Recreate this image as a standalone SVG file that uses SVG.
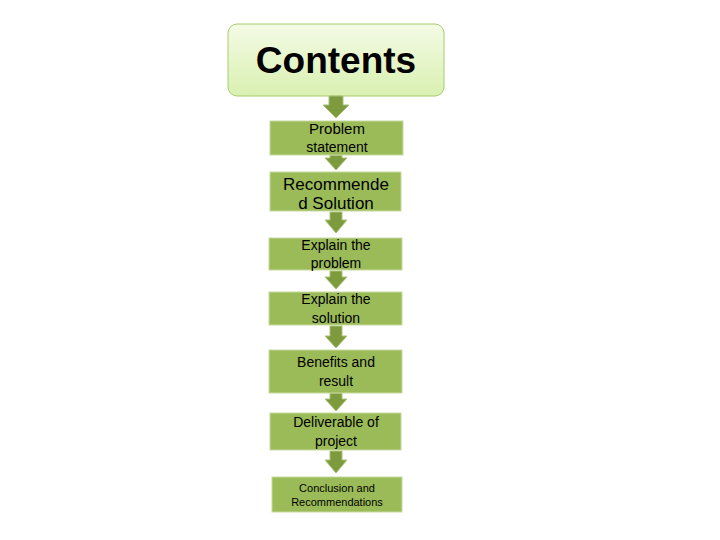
<svg xmlns="http://www.w3.org/2000/svg" width="720" height="540" viewBox="0 0 720 540">
<defs>
<linearGradient id="g0" x1="0" y1="0" x2="0" y2="1"><stop offset="0" stop-color="#f4fbe6"/><stop offset="1" stop-color="#d9f0b0"/></linearGradient>
</defs>
<style>
.b{fill:#9bbb59;stroke:#c7d9a0;stroke-width:1}
.a{fill:#7d9a3c;stroke:#a9c27a;stroke-width:1}
text{font-family:"Liberation Sans",Arial,sans-serif;fill:#000;text-anchor:middle}
.t{font-size:15px}
</style>
<rect width="720" height="540" fill="#fff"/>
<g id="contents"><rect x="228" y="24" width="216" height="72" rx="9" fill="url(#g0)" stroke="#a8cc70"/><text x="336" y="73" font-size="37" font-weight="bold">Contents</text></g>
<g id="connectors">
<path class="a" d="M329 96h14v9h6l-13 13l-13-13h6z"/>
<path class="a" d="M330 155h12v3h5l-11 12l-11-12h5z"/>
<path class="a" d="M330 212h12v8h5l-11 13l-11-13h5z"/>
<path class="a" d="M330 271h12v6h5l-11 12l-11-12h5z"/>
<path class="a" d="M330 326h12v10h5l-11 12l-11-12h5z"/>
<path class="a" d="M330 393h12v6h5l-11 12l-11-12h5z"/>
<path class="a" d="M330 451h12v9h5l-11 13l-11-13h5z"/>
</g>
<g id="n1"><rect class="b" x="270" y="121" width="133" height="34"/><text class="t" x="337" y="134" font-size="14">Problem</text><text x="337" y="152" font-size="14">statement</text></g>
<g id="n2"><rect class="b" x="270" y="172" width="131" height="39"/><text x="336" y="190" font-size="17">Recommende</text><text x="336" y="209" font-size="17">d Solution</text></g>
<g id="n3"><rect class="b" x="269" y="238" width="133" height="32"/><text x="336" y="250" font-size="14">Explain the</text><text x="336" y="268" font-size="14">problem</text></g>
<g id="n4"><rect class="b" x="269" y="292" width="133" height="33"/><text x="336" y="304" font-size="14">Explain the</text><text x="336" y="323" font-size="14">solution</text></g>
<g id="n5"><rect class="b" x="269" y="350" width="133" height="43"/><text x="336" y="367" font-size="14">Benefits and</text><text x="336" y="386" font-size="14">result</text></g>
<g id="n6"><rect class="b" x="270" y="413" width="131" height="37"/><text x="336" y="427" font-size="14">Deliverable of</text><text x="336" y="446" font-size="14">project</text></g>
<g id="n7"><rect class="b" x="272" y="477" width="130" height="35"/><text x="337" y="492" font-size="11">Conclusion and</text><text x="337" y="506" font-size="11">Recommendations</text></g>
</svg>
